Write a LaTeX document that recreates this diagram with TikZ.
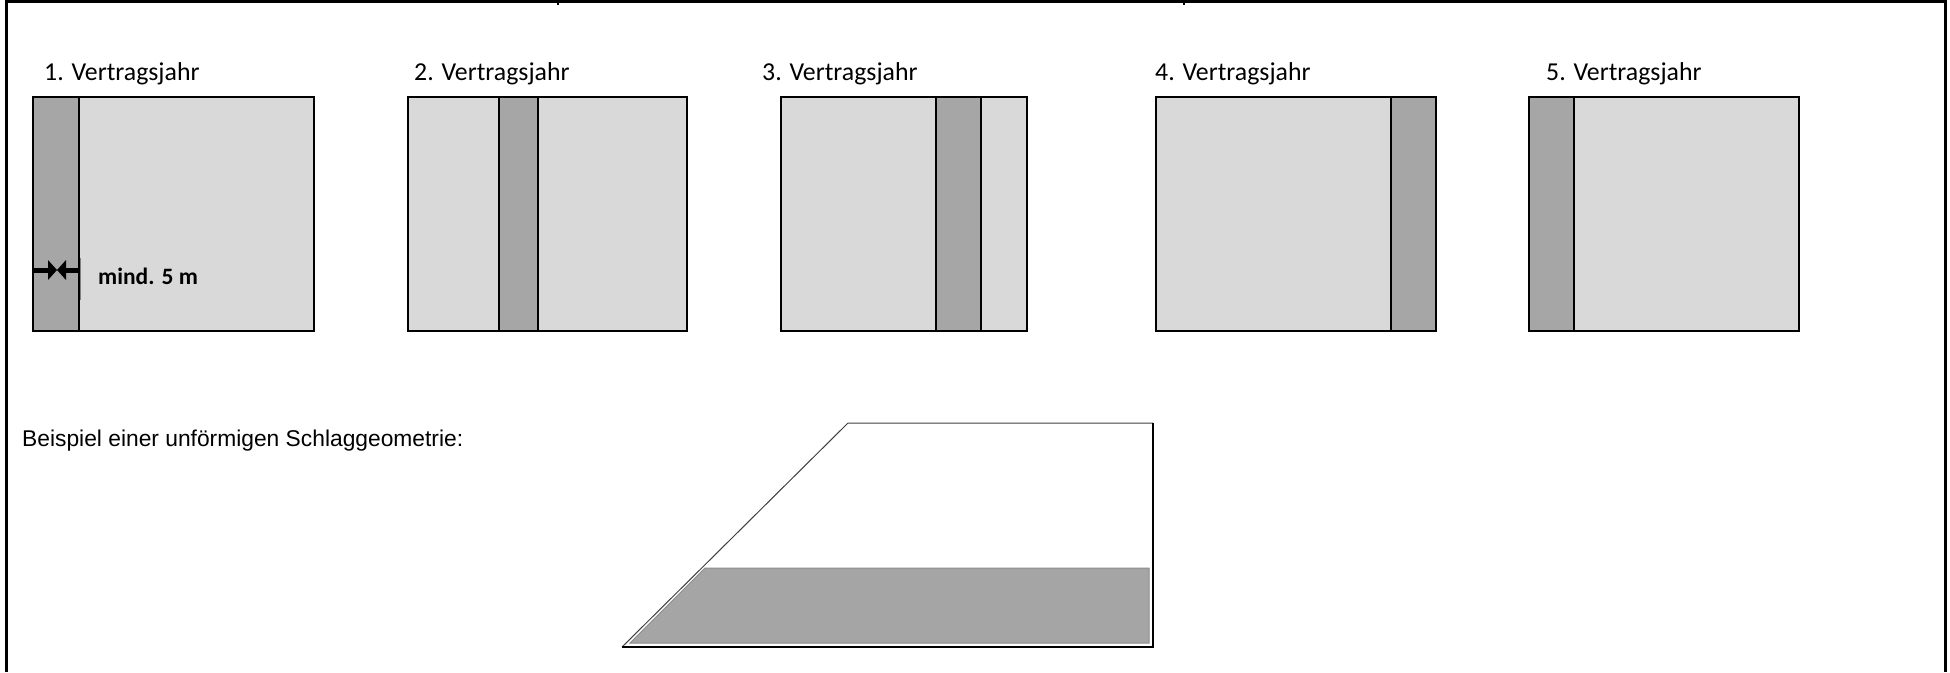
\documentclass[tikz,border=0pt]{standalone}
\usepackage{fontspec}
\newfontfamily\carlito{Carlito}
\newfontfamily\arialfont{Liberation Sans}
\definecolor{lightfield}{HTML}{D9D9D9}
\definecolor{darkstrip}{HTML}{A6A6A6}
\definecolor{innergray}{HTML}{A5A5A5}
\begin{document}
\begin{tikzpicture}[x=1pt,y=-1pt,
  field/.style={fill=lightfield, draw=black, line width=2pt},
  stripbox/.style={fill=darkstrip, draw=black, line width=2pt},
  yearlabel/.style={anchor=base west, inner sep=0pt, font=\carlito\fontsize{25.8}{31}\selectfont},
  framestyle/.style={line width=3pt, black},
  arrowpart/.style={fill=black, draw=none}]
\useasboundingbox (0,0) rectangle (1950,672);
% frame
\draw[framestyle] (6,672) -- (6,1.5) -- (1945,1.5) -- (1945,672);
\draw[line width=1.5pt] (558,0) -- (558,5);
\draw[line width=1.5pt] (1184,0) -- (1184,5);
% year 1
\draw[field] (33,97) rectangle (314,331);
\draw[stripbox] (33,97) rectangle (79,331);
% year 2
\draw[field] (408,97) rectangle (687,331);
\draw[stripbox] (499,97) rectangle (538,331);
% year 3
\draw[field] (781,97) rectangle (1027,331);
\draw[stripbox] (936,97) rectangle (981,331);
% year 4
\draw[field] (1156,97) rectangle (1436,331);
\draw[stripbox] (1391,97) rectangle (1436,331);
% year 5
\draw[field] (1529,97) rectangle (1799,331);
\draw[stripbox] (1529,97) rectangle (1574,331);
% labels
\node[yearlabel] (l1) at (44,80) {1. Vertragsjahr};
\node[yearlabel] (l2) at (414,80) {2. Vertragsjahr};
\node[yearlabel] (l3) at (762,80) {3. Vertragsjahr};
\node[yearlabel] (l4) at (1155,80) {4. Vertragsjahr};
\node[yearlabel] (l5) at (1546,80) {5. Vertragsjahr};
% dimension
\draw[gray, line width=1pt] (80,258) -- (80,300);
\fill[arrowpart] (33,267.5) rectangle (48,272.5);
\fill[arrowpart] (48,260) -- (57,270) -- (48,280) -- cycle;
\fill[arrowpart] (66,267.5) rectangle (79,272.5);
\fill[arrowpart] (66,260) -- (57,270) -- (66,280) -- cycle;
\node[anchor=base west, inner sep=0pt, font=\carlito\bfseries\fontsize{23.5}{28}\selectfont] (dim) at (98,284) {mind. 5 m};
% bottom example
\node[anchor=base west, inner sep=0pt, font=\arialfont\fontsize{22.8}{28}\selectfont] (ex) at (22,446) {Beispiel einer unförmigen Schlaggeometrie:};
\fill[white] (622,647) -- (848,423) -- (1153,423) -- (1153,647) -- cycle;
\draw[black!75, line width=1pt] (622,647) -- (848,423) -- (1153,423);
\draw[black, line width=1.5pt] (1153,423) -- (1153,647) -- (622,647);
\filldraw[fill=innergray, draw=black!45, line width=1pt] (630,643) -- (705,568) -- (1149,568) -- (1149,643) -- cycle;
\end{tikzpicture}
\end{document}
